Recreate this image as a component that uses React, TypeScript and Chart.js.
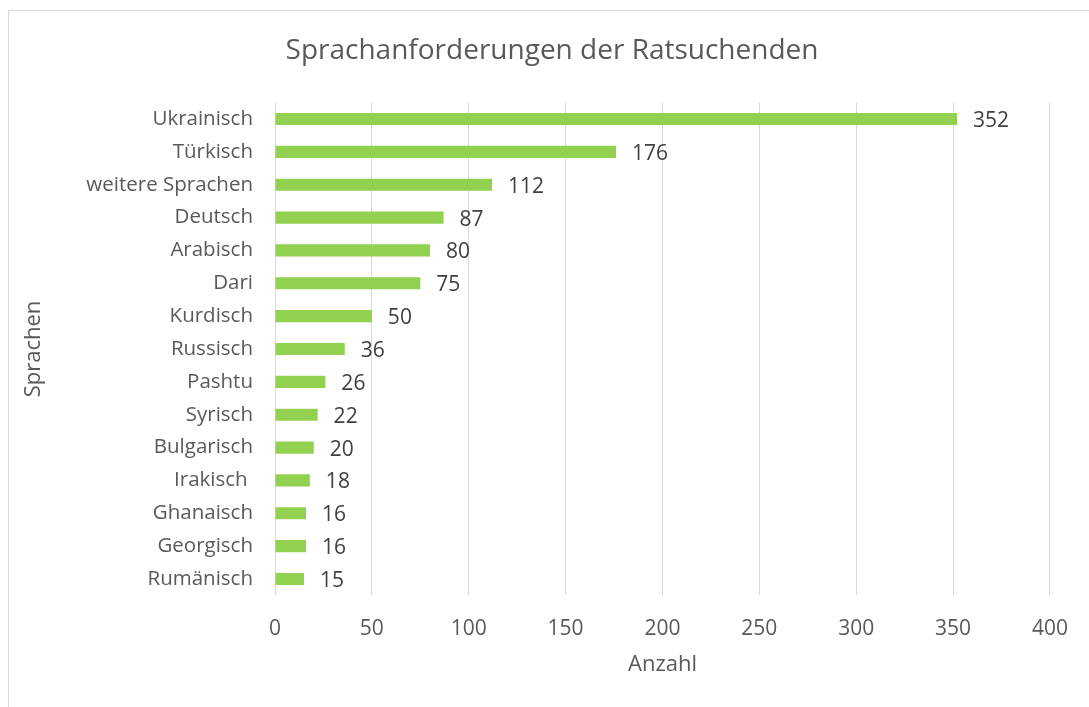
import React, { useEffect, useRef } from "react";
import { Chart, registerables } from "chart.js";

Chart.register(...registerables);

const categories = [
  "Ukrainisch",
  "Türkisch",
  "weitere Sprachen",
  "Deutsch",
  "Arabisch",
  "Dari",
  "Kurdisch",
  "Russisch",
  "Pashtu",
  "Syrisch",
  "Bulgarisch",
  "Irakisch ",
  "Ghanaisch",
  "Georgisch",
  "Rumänisch",
];
const values = [352, 176, 112, 87, 80, 75, 50, 36, 26, 22, 20, 18, 16, 16, 15];
const chartTitle = "Sprachanforderungen der Ratsuchenden";
const xTitle = "Anzahl";
const yTitle = "Sprachen";

const FONT = "'Open Sans', 'Noto Sans', sans-serif";

export default function App() {
  const ref = useRef<HTMLCanvasElement | null>(null);

  useEffect(() => {
    if (!ref.current) return;
    const overlay = {
      id: "overlay",
      beforeDraw(chart: any) {
        const ctx = chart.ctx;
        ctx.save();
        ctx.fillStyle = "#ffffff";
        ctx.fillRect(0, 0, chart.width, chart.height);
        ctx.strokeStyle = "#d9d9d9";
        ctx.lineWidth = 1;
        ctx.strokeRect(8.5, 10.5, 1300, 900);
        ctx.restore();
      },
      afterDatasetsDraw(chart: any) {
        const ctx = chart.ctx;
        const meta = chart.getDatasetMeta(0);
        ctx.save();
        ctx.font = `21px ${FONT}`;
        ctx.fillStyle = "#404040";
        ctx.textAlign = "left";
        ctx.textBaseline = "middle";
        meta.data.forEach((bar: any, i: number) => {
          ctx.fillText(String(values[i]), bar.x + 16, bar.y + 2);
        });
        ctx.restore();
      },
      afterDraw(chart: any) {
        const ctx = chart.ctx;
        const area = chart.chartArea;
        ctx.save();
        ctx.fillStyle = "#595959";
        ctx.textAlign = "center";
        ctx.textBaseline = "middle";
        ctx.font = `28px ${FONT}`;
        ctx.fillText(chartTitle, 552, 51);
        ctx.font = `22px ${FONT}`;
        ctx.fillText(xTitle, (area.left + area.right) / 2, 665);
        ctx.translate(34, (area.top + area.bottom) / 2);
        ctx.rotate(-Math.PI / 2);
        ctx.fillText(yTitle, 0, 0);
        ctx.restore();
      },
    };

    const chart = new Chart(ref.current, {
      type: "bar",
      data: {
        labels: categories,
        datasets: [
          {
            data: values,
            backgroundColor: "#92D050",
            borderWidth: 0,
            categoryPercentage: 1,
            barPercentage: 0.37,
          },
        ],
      },
      options: {
        indexAxis: "y",
        responsive: false,
        animation: false,
        layout: { padding: { top: 102.6, left: 0, right: 39, bottom: 0 } },
        plugins: {
          legend: { display: false },
          title: { display: false },
          tooltip: { enabled: false },
        },
        scales: {
          x: {
            min: 0,
            max: 400,
            ticks: {
              stepSize: 50,
              color: "#595959",
              font: { family: FONT, size: 21 },
              padding: 21,
            },
            grid: { color: "#d9d9d9", lineWidth: 1, drawTicks: false },
            border: { display: false },
            afterFit(scale: any) {
              scale.height = 707 - 595.4;
            },
          },
          y: {
            ticks: {
              color: "#595959",
              font: { family: FONT, size: 20.5 },
              padding: 22,
              autoSkip: false,
            },
            grid: { display: false, drawTicks: false },
            border: { display: false },
            afterFit(scale: any) {
              scale.width = 275;
            },
          },
        },
      },
      plugins: [overlay],
    });
    return () => chart.destroy();
  }, []);

  return (
    <div style={{ position: "fixed", left: 0, top: 0, width: 1089, height: 707, background: "#fff" }}>
      <canvas ref={ref} width={1089} height={707} style={{ width: 1089, height: 707, display: "block" }} />
    </div>
  );
}
